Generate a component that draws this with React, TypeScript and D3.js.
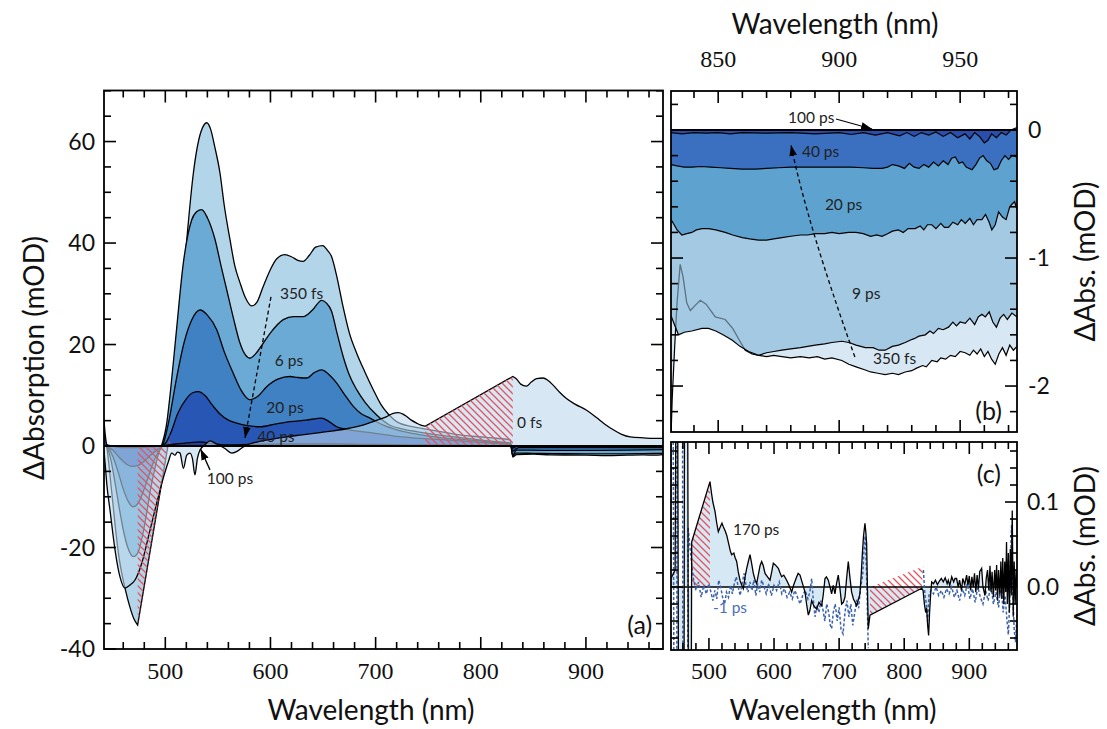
import React from 'react';
import * as d3 from 'd3';

type P = [number, number];

// ---------------- Panel (a) data: wavelength (nm), ΔA (mOD) ----------------
const A_0FS: P[] = [[441.7,-1],[443,-4],[444.3,-7.4],[447.4,-12.6],[452.2,-20.5],[456.9,-25.8],[461.7,-28.0],[466.4,-27.4],[471.2,-26.4],[477.6,-23.1],[483.9,-17.9],[490.2,-12.6],[496.6,-7.4],[502.9,-3.1],[506.1,-1.4],[509.2,-1.8],[511.5,-1.2],[514,-1.4],[517.2,-4.4],[520.4,-1.8],[523.5,-1.4],[525.8,-2.5],[528.2,-5.7],[530.5,-2.5],[533,-0.8],[538,0.3],[542.5,1.0],[548.8,0.4],[556.7,-0.5],[563.1,-1.4],[567.8,-1.1],[574.2,-0.2],[580,0.4],[590,0.9],[600,1.3],[615,1.8],[630,2.2],[645,2.6],[660,3.0],[675,3.5],[688,4.1],[700,5.0],[710.6,5.8],[716,6.4],[721.6,6.6],[726,6.3],[729.6,5.8],[734,5.1],[739,4.5],[743,4.1],[747,3.9],[830.5,13.7],[834,13.2],[838,12.2],[843.4,11.8],[848,12.6],[853,13.3],[859.3,13.4],[864,12.9],[868.8,12.0],[875,10.6],[881.2,9.4],[890,8.2],[900.3,7.1],[910,5.6],[918,4.3],[926.1,3.2],[934,2.3],[942,1.8],[955,1.6],[965,1.5],[973.3,1.5]];
const A_0FS_STRAIGHT = [747];
const A_350FS: P[] = [[441.7,0.5],[444,0],[447,-5],[450,-11],[453,-17],[456,-22],[459,-25.5],[462,-28.3],[466,-31.5],[470,-34],[473.7,-35.3],[504.5,2.5],[507,6.5],[510,13],[515.6,28.5],[521,42],[526.7,53.8],[532,60.5],[536,63],[539.4,63.7],[543,62.5],[547,59],[552,53.8],[556,47.5],[561.5,40.7],[566,35.6],[571,32.2],[576,29.3],[582,27.6],[587,28.3],[593,31.4],[600,34.8],[606,36.9],[613.7,37.7],[620,37.3],[626,36.6],[631,36.4],[637,37.6],[643,39.2],[649.7,39.5],[654,38.6],[658,37.4],[663,33.5],[669,27.5],[675,22.3],[682,18.3],[690,14.5],[698,11],[705,8.2],[712,6.3],[720,4.8],[735,3.8],[752,3.2],[780,2.2],[805,1.7],[828,1.2],[830.5,-2.2],[834,-1.7],[850,-1.6],[866,-1.75],[880,-1.77],[900,-1.8],[920,-1.9],[940,-1.8],[955,-1.75],[965,-1.8],[973.3,-1.7]];
const A_350FS_STRAIGHT = [473.7];
const A_6PS: P[] = [[441.7,0.3],[444,0],[448,-2.5],[452,-7],[456,-12],[460,-16.5],[464,-19.8],[469.6,-21.8],[474,-21],[478,-18],[482,-13.5],[486,-8.5],[490,-4.5],[494,-1.2],[497.5,0.8],[501,4],[505,11],[510,21.5],[517.1,36],[525,44.5],[530,46.2],[534.6,46.6],[540,45],[547.3,40.7],[553,35.5],[558.4,30.8],[565,25],[571,20.3],[576,18],[580.5,17.3],[586,18.2],[593.2,20.3],[600,22.3],[612.2,24.9],[622,25.5],[631.2,25.5],[640,26.8],[648.7,28.7],[653,28.2],[658.2,26.5],[663,22.5],[669.2,17.6],[675,14],[682,11.1],[690,8.6],[701,6.1],[713.6,4.1],[725,3.4],[740,2.8],[755,2.3],[775,1.8],[795,1.3],[812,0.9],[828,0.6],[830.5,-2.0],[834,-1.4],[850,-1.45],[870,-1.5],[900,-1.55],[930,-1.55],[955,-1.5],[973.3,-1.45]];
const A_20PS: P[] = [[441.7,0.2],[444,0],[450,-2],[455,-5],[460,-8.5],[465,-11],[469.6,-12],[474,-11.3],[479,-9],[484,-6],[489,-3],[494,-1],[498,0.4],[503,4.5],[510.8,13.5],[518,20.5],[525,24.8],[533,26.8],[540,25.8],[548.9,22.9],[556,18.6],[564.7,14.3],[572,11],[580.5,9.1],[588,9.8],[596.4,11.7],[607,13.2],[618.6,13.7],[626,13.5],[634.5,13.4],[642,14.5],[648.7,15],[655,14.2],[663,12.4],[670,10.3],[678.8,7.8],[686,6.4],[694.7,5.5],[707.3,4.1],[720,3.2],[740,2.3],[760,1.7],[780,1.3],[800,1.0],[820,0.6],[828.5,0.4],[830.5,-1.8],[834,-0.8],[860,-0.85],[900,-0.85],[940,-0.8],[973.3,-0.7]];
const A_40PS: P[] = [[441.7,0.4],[444,0],[450,-0.8],[456,-2.2],[462,-3.4],[468,-4],[474,-3.8],[480,-3],[486,-1.8],[492,-0.8],[497,0],[500,0.5],[505,2.5],[512,6.5],[520,9.3],[526,10.5],[531.4,10.7],[538,9.9],[545,8],[552,6.3],[560,5.1],[567.9,4.5],[578,4],[590.1,3.8],[604,4.3],[618.6,4.8],[634,5.1],[648.7,5.5],[655,4.9],[663,3.8],[672,3.3],[685,2.9],[700,2.5],[720,1.9],[760,1.3],[800,0.7],[828,0.3],[830.5,-1.0],[836,-0.3],[880,-0.3],[920,-0.3],[973.3,-0.3]];
const A_100PS: P[] = [[441.7,5],[443,2],[444.5,0.3],[450,0],[460,-0.3],[475,-0.3],[490,-0.1],[500,0.1],[510,0.4],[520,0.6],[533,0.8],[545,0.5],[560,0.2],[580,0.3],[620,0.4],[660,0.4],[700,0.3],[750,0.2],[800,0.1],[828,0],[830.5,-0.4],[834,-0.05],[973.3,-0.05]];
const A_HATCH1: P[] = [[473.7,0],[473.7,-35.3],[504.5,2.5],[504.5,0]];
const A_HATCH2: P[] = [[747,0],[747,3.9],[830.5,13.7],[830.5,0]];

// ---------------- Panel (b) data ----------------
const B_350FS: P[] = [[830.5,-2.4],[831,-2.1],[832,-1.7],[833,-1.35],[834.3,-1.05],[835.5,-1.15],[837,-1.35],[838.5,-1.41],[840.5,-1.37],[842.6,-1.33],[845,-1.36],[848.8,-1.46],[852.9,-1.48],[856,-1.55],[859,-1.65],[861.2,-1.72],[864,-1.75],[866.7,-1.76],[870,-1.77],[873,-1.76],[876.3,-1.77],[880,-1.78],[884,-1.77],[887.6,-1.78],[891,-1.77],[894,-1.79],[897,-1.78],[901.1,-1.80],[904,-1.83],[907,-1.85],[910.8,-1.875],[913,-1.89],[916,-1.9],[919,-1.91],[922,-1.9],[924.5,-1.91],[927.3,-1.89],[930,-1.88],[932,-1.86],[934.5,-1.84],[936,-1.85],[938.3,-1.80],[940.5,-1.81],[942,-1.78],[944,-1.79],[946,-1.76],[948,-1.77],[950,-1.73],[952.1,-1.74],[954,-1.76],[955.5,-1.72],[957,-1.75],[958.5,-1.71],[960,-1.77],[961.5,-1.73],[963,-1.79],[964.5,-1.83],[966,-1.75],[967.5,-1.7],[969,-1.76],[970.5,-1.68],[972,-1.72],[973.5,-1.69]];
const B_9PS: P[] = [[830.5,-1.45],[831.5,-1.5],[833.6,-1.6],[836,-1.58],[839.1,-1.57],[843.3,-1.55],[846,-1.55],[849,-1.57],[852,-1.6],[855.7,-1.64],[859,-1.69],[862.6,-1.73],[866.7,-1.76],[870,-1.74],[873,-1.73],[876.3,-1.72],[880,-1.71],[884,-1.7],[887,-1.69],[890.1,-1.68],[894,-1.67],[897,-1.66],[901.1,-1.65],[904,-1.66],[907,-1.68],[910.8,-1.70],[914,-1.7],[916.5,-1.72],[919,-1.72],[922,-1.69],[924.5,-1.68],[927.3,-1.66],[929.5,-1.64],[931,-1.63],[933,-1.61],[935.6,-1.6],[937.5,-1.57],[939,-1.59],[941,-1.55],[943,-1.56],[945.2,-1.54],[947,-1.5],[948.5,-1.53],[950,-1.5],[952.1,-1.51],[954,-1.47],[956,-1.52],[957.5,-1.46],[959,-1.44],[960.4,-1.46],[962,-1.42],[963.5,-1.5],[965,-1.54],[966.5,-1.47],[968,-1.44],[969.5,-1.48],[971.4,-1.43],[973.5,-1.46]];
const B_20PS: P[] = [[830.5,-0.7],[831.5,-0.73],[833,-0.78],[835,-0.82],[837,-0.81],[839.1,-0.8],[841,-0.78],[843.3,-0.77],[846,-0.77],[849,-0.78],[852.9,-0.8],[856,-0.82],[860,-0.84],[863,-0.85],[866.7,-0.86],[870,-0.86],[873,-0.85],[876.3,-0.84],[880,-0.83],[884,-0.82],[887,-0.82],[890.1,-0.81],[894,-0.81],[897,-0.8],[900,-0.81],[903.9,-0.8],[907,-0.8],[910,-0.81],[913,-0.83],[915.5,-0.82],[917.7,-0.83],[920,-0.81],[922,-0.79],[924.5,-0.78],[926.5,-0.8],[928.5,-0.77],[931.4,-0.77],[933.5,-0.75],[935,-0.78],[936.5,-0.74],[938.3,-0.74],[940,-0.77],[942,-0.73],[943.5,-0.76],[945.2,-0.76],[947,-0.72],[949,-0.74],[950.5,-0.7],[952.1,-0.73],[954,-0.69],[955.5,-0.74],[957,-0.7],[959,-0.7],[960.5,-0.66],[962,-0.72],[963.1,-0.78],[964.5,-0.74],[965.9,-0.64],[967.5,-0.68],[969,-0.7],[970.5,-0.6],[971.4,-0.58],[972.5,-0.56],[973.5,-0.62]];
const B_40PS: P[] = [[830.5,-0.27],[833,-0.28],[836,-0.29],[839.1,-0.29],[843,-0.285],[847,-0.29],[851,-0.295],[855,-0.3],[860,-0.305],[865.3,-0.305],[870,-0.3],[875,-0.295],[880,-0.29],[885,-0.29],[890.1,-0.29],[895,-0.29],[900,-0.29],[905,-0.29],[910,-0.295],[914,-0.3],[917.7,-0.3],[920,-0.29],[922,-0.27],[924.5,-0.28],[927,-0.3],[929,-0.26],[931,-0.29],[933,-0.3],[935,-0.27],[937,-0.29],[939,-0.25],[941,-0.28],[943,-0.24],[945,-0.27],[946.5,-0.22],[948,-0.21],[949.5,-0.26],[951,-0.25],[952.5,-0.29],[954.9,-0.31],[956.5,-0.27],[958,-0.22],[959.5,-0.2],[961,-0.24],[962.5,-0.26],[964,-0.31],[965.5,-0.3],[967,-0.24],[968.5,-0.2],[970,-0.23],[971.5,-0.2],[973.5,-0.21]];
const B_100PS: P[] = [[830.5,-0.02],[835,-0.03],[840,-0.02],[845,-0.025],[850,-0.02],[855,-0.03],[860,-0.02],[870,-0.025],[880,-0.02],[890,-0.03],[900,-0.02],[905,-0.035],[910,-0.02],[915,-0.04],[920,-0.02],[925,-0.045],[928,-0.02],[931,-0.05],[934,-0.02],[937,-0.04],[940,-0.015],[943,-0.05],[946,-0.02],[949,-0.06],[952,-0.03],[954,-0.07],[956,-0.02],[958,-0.05],[960,-0.1],[961.5,-0.08],[963,-0.03],[965,-0.06],[967,-0.02],[969,-0.04],[971,0.0],[973.5,0.02]];

// ---------------- Panel (c) data ----------------
const C_170PS: P[] = [[441.7,0.01],[448,0.02],[451,0.5],[454.5,-0.5],[461,-0.5],[463,0.5],[466.5,0.5],[469.5,-0.5],[471.5,-0.5],[473.5,0.053],[501.6,0.124],[504,0.11],[506,0.1],[509.3,0.089],[512,0.075],[514.4,0.065],[517,0.07],[520,0.075],[522.1,0.071],[525,0.066],[527.3,0.061],[530.9,0.049],[533,0.042],[534.9,0.038],[538.3,0.04],[540,0.035],[542.6,0.03],[545,0.018],[547.7,0.008],[550,0.003],[552.8,-0.002],[555.5,0.012],[558,0.022],[560.5,0.03],[563.1,0.038],[565.5,0.028],[568.2,0.016],[571,0.008],[573.3,0.004],[576,0.015],[578.5,0.025],[581,0.03],[583.5,0.025],[586.2,0.016],[590,0.012],[593.8,0.008],[596.5,0.018],[598.9,0.028],[602,0.026],[606.6,0.022],[609,0.017],[611.7,0.012],[615,0.014],[619.4,0.008],[623,0.002],[627.1,-0.006],[630,0.002],[634.8,0.012],[637,0.016],[639.9,0.014],[643,0.006],[647.6,-0.006],[650,-0.02],[652.7,-0.033],[655,-0.028],[657.8,-0.016],[661,-0.022],[665.5,-0.026],[669,-0.018],[673.2,-0.022],[675.5,-0.01],[678.3,0.01],[680.5,0.012],[683.4,0.008],[686,0.0],[688.5,-0.008],[691,0.002],[693.6,-0.008],[696,0.004],[698.7,0.014],[701,0.0],[703.9,-0.02],[706.5,-0.018],[709,-0.012],[711.5,0.01],[714.1,0.03],[716.5,0.012],[719.2,-0.006],[722,-0.014],[724.5,-0.018],[726.9,-0.022],[729.5,-0.015],[732,-0.008],[734,0.015],[735.6,0.038],[737.5,0.06],[739.7,0.075],[741,0.065],[742.3,0.051],[743.5,0.0],[744.8,-0.049],[747.4,-0.033],[826.9,-0.0015],[829,-0.004],[831,-0.02],[833,-0.03],[834.5,-0.025],[836,-0.045],[837.5,-0.057],[839,-0.03],[840.5,-0.01],[842.2,0.006],[845,0.004],[848,0.008],[851,0.003],[854,0.007],[857,0.01],[860,0.006],[863,0.011],[866,0.004],[867.7,0.008],[870,0.002],[873,0.012],[876,0.006],[878,0.01],[880.5,0.01],[883,0.0],[885,0.008],[888,-0.004],[890,0.01],[893,0.003],[895.9,0.014],[898,0.002],[900,0.013],[902,-0.004],[904,0.012],[906,0.0],[908,0.016],[910,-0.006],[912,0.014],[914,-0.002],[916,0.018],[919,0.022],[921,0.0],[924.1,-0.01],[926,0.01],[928,0.02],[930,-0.004],[931.8,0.025],[933.5,-0.006],[935,0.018],[937,-0.012],[939,0.02],[940.5,-0.004],[942,0.026],[943.5,-0.016],[945,0.02],[947,-0.01],[948.5,0.03],[950,-0.014],[951.4,0.034],[953,-0.02],[954.5,0.03],[956,-0.006],[957.2,0.053],[958.5,-0.02],[960,0.04],[961.5,-0.03],[963,0.045],[964.5,-0.01],[966,0.09],[967.5,-0.035],[969,0.03],[970.5,-0.02],[972,0.02],[973.3,0.0]];
const C_M1PS_VIS: P[] = [[441.7,0.1],[444,0.5],[447.5,-0.5],[450,-0.5],[451.5,0.5],[459,0.5],[460.5,-0.5],[466,-0.5],[468,0.07],[470.5,0.05],[473,0.03],[476,0.01],[480,-0.004],[484,0.006],[488,-0.012],[492,0.002],[496,-0.008],[500,0.004],[503,-0.006],[506,-0.016],[509,-0.004],[512,-0.014],[515,0.008],[518,0.0],[521,-0.012],[524,-0.02],[527,-0.006],[530,-0.012],[533,0.002],[536,-0.008],[539,0.004],[542,0.012],[545,0.0],[548,-0.01],[551,0.004],[554,0.016],[557,0.002],[560,-0.006],[563,0.006],[566,-0.004],[569,0.008],[572,-0.01],[575,0.004],[578,-0.006],[581,0.008],[584,0.002],[588,-0.008],[592,0.004],[596,-0.01],[600,0.002],[604,-0.004],[608,0.006],[612,-0.008],[616,-0.002],[620,-0.012],[624,-0.006],[628,-0.014],[632,-0.004],[636,-0.012],[640,-0.02],[644,-0.01],[648,-0.004],[652,-0.014],[655,-0.006],[657.8,0.01],[660,-0.012],[663,-0.035],[666,-0.022],[669,-0.03],[672,-0.016],[675,-0.026],[678,-0.04],[681,-0.02],[684,-0.03],[686.5,-0.045],[688.5,-0.049],[691,-0.03],[694,-0.02],[697,-0.04],[700,-0.024],[703,-0.05],[706,-0.055],[709,-0.03],[712,-0.016],[715,-0.035],[718,-0.02],[721,-0.045],[724,-0.03],[727,-0.015],[730,-0.025],[733,0.0],[736.2,0.014],[738,0.04],[740,0.06],[742,0.02],[744.8,-0.072]];
const C_M1PS_NIR: P[] = [[829.5,0.02],[831.8,-0.009],[834,-0.02],[836,-0.04],[838,-0.01],[841,-0.004],[845,-0.008],[849,0.0],[853,-0.01],[857,-0.004],[861,-0.012],[865,-0.002],[869,-0.008],[873,0.0],[877,-0.012],[881,-0.004],[885,-0.016],[889,-0.002],[893,-0.01],[897,0.004],[901,-0.014],[905,-0.002],[909,-0.018],[913,0.0],[917,-0.012],[921,-0.02],[925,-0.004],[929,-0.016],[933,0.004],[937,-0.02],[941,-0.006],[945,-0.024],[949,0.006],[952,-0.03],[955,-0.01],[958,-0.04],[960,-0.056],[962,-0.02],[963.5,0.04],[965,0.073],[967,-0.01],[969,-0.05],[971,-0.065],[973.3,-0.03]];
const C_HATCH1: P[] = [[473.5,0],[473.5,0.053],[501.6,0.124],[501.6,0]];
const C_HATCH2: P[] = [[747.4,0],[747.4,-0.033],[826.9,-0.0015],[829.3,0.024]];

// ---------------- ticks ----------------
const A_XTICKS = [500, 600, 700, 800, 900];
const A_YTICKS = [-40, -20, 0, 20, 40, 60];
const B_XTICKS = [850, 900, 950];
const B_YTICKS = [-2, -1, 0];
const C_XTICKS = [500, 600, 700, 800, 900];
const C_YTICKS = [0, 0.1];
const C_YLABELS = ['0.0', '0.1'];

const W = 1107, H = 729;
const FA = { x0: 104, x1: 663, y0: 90.5, y1: 649 };
const FB = { x0: 671, x1: 1017, y0: 91, y1: 432 };
const FC = { x0: 671, x1: 1017, y0: 442, y1: 650 };

const xA = d3.scaleLinear().domain([441.7, 973.3]).range([FA.x0, FA.x1]);
const yA = d3.scaleLinear().domain([-40.0, 70.06]).range([FA.y1, FA.y0]);
const xB = d3.scaleLinear().domain([830.5, 973.5]).range([FB.x0, FB.x1]);
const yB = d3.scaleLinear().domain([-2.359, 0.3047]).range([FB.y1, FB.y0]);
const xC = d3.scaleLinear().domain([441.7, 973.3]).range([FC.x0, FC.x1]);
const yC = d3.scaleLinear().domain([-0.0741, 0.1706]).range([FC.y1, FC.y0]);

const SANS = "Lato, 'Open Sans', 'DejaVu Sans', sans-serif";
const SERIF = "'Liberation Serif', 'DejaVu Serif', serif";

function buildLine(data: P[], x: any, y: any, straight: number[], curve: any): string {
  const runs: P[][] = [];
  let cur: P[] = [];
  data.forEach((p, i) => {
    cur.push(p);
    if (straight.includes(p[0]) && i < data.length - 1) { runs.push(cur); cur = []; }
  });
  if (cur.length) runs.push(cur);
  const gen = d3.line<P>().x(d => x(d[0])).y(d => y(d[1])).curve(curve);
  return runs.map((r, i) => {
    const s = (gen(r) || '').replace(/Z$/, '');
    return i === 0 ? s : 'L' + s.slice(1);
  }).join('');
}
function buildArea(data: P[], x: any, y: any, straight: number[], curve: any): string {
  const l = buildLine(data, x, y, straight, curve);
  const f = data[0], e = data[data.length - 1];
  return `${l}L${x(e[0])},${y(0)}L${x(f[0])},${y(0)}Z`;
}
function poly(data: P[], x: any, y: any): string {
  return 'M' + data.map(d => `${x(d[0])},${y(d[1])}`).join('L') + 'Z';
}

function Ticks({ x, y, f, xMinor, xMajor, yMinor, yMajor }: any) {
  const isMaj = (arr: number[], v: number) => arr.some(m => Math.abs(m - v) < 1e-6);
  const out: any[] = [];
  xMinor.forEach((v: number, i: number) => {
    const L = isMaj(xMajor, v) ? 12 : 7;
    const px = x(v);
    out.push(<line key={'xb' + i} x1={px} x2={px} y1={f.y1} y2={f.y1 - L} />);
    out.push(<line key={'xt' + i} x1={px} x2={px} y1={f.y0} y2={f.y0 + L} />);
  });
  yMinor.forEach((v: number, i: number) => {
    const L = isMaj(yMajor, v) ? 12 : 7;
    const py = y(v);
    out.push(<line key={'yl' + i} x1={f.x0} x2={f.x0 + L} y1={py} y2={py} />);
    out.push(<line key={'yr' + i} x1={f.x1} x2={f.x1 - L} y1={py} y2={py} />);
  });
  return <g stroke="#000" strokeWidth={1.6}>{out}</g>;
}

export default function App() {
  const mA = d3.curveMonotoneX;
  const lin = d3.curveLinear;

  const aSeries = [
    { d: A_350FS, s: A_350FS_STRAIGHT, fill: '#b3d5ea' },
    { d: A_6PS, s: [], fill: '#6aaad5' },
    { d: A_20PS, s: [], fill: '#3f81c3' },
    { d: A_40PS, s: [], fill: '#2856b4' },
    { d: A_100PS, s: [], fill: '#1f3f9c' },
  ];
  const bSeries = [
    { d: B_9PS, fill: '#a3c9e3' },
    { d: B_20PS, fill: '#5ea3d0' },
    { d: B_40PS, fill: '#3a70bf' },
    { d: B_100PS, fill: '#2b4eae' },
  ];

  const txt = { fontFamily: SANS, fill: '#222' } as any;
  const TITLE = 28;

  return (
    <div style={{ position: 'absolute', left: 0, top: 0, width: W, height: H, background: '#fff' }}>
      <svg width={W} height={H} viewBox={`0 0 ${W} ${H}`}>
        <defs>
          <clipPath id="clipA"><rect x={FA.x0} y={FA.y0} width={FA.x1 - FA.x0} height={FA.y1 - FA.y0} /></clipPath>
          <clipPath id="clipB"><rect x={FB.x0} y={FB.y0} width={FB.x1 - FB.x0} height={FB.y1 - FB.y0} /></clipPath>
          <clipPath id="clipC"><rect x={FC.x0} y={FC.y0} width={FC.x1 - FC.x0} height={FC.y1 - FC.y0} /></clipPath>
          <clipPath id="clip9ps"><path d={buildArea(B_9PS, xB, yB, [], lin)} /></clipPath>
          <pattern id="hatch" patternUnits="userSpaceOnUse" width={7} height={7}>
            <path d="M0,0L7,7M-1,6L1,8M6,-1L8,1" stroke="#e4535d" strokeWidth={1.3} />
          </pattern>
          <marker id="arr" viewBox="0 0 10 7" refX={10} refY={3.5} markerWidth={11} markerHeight={8} markerUnits="userSpaceOnUse" orient="auto">
            <path d="M0,0L10,3.5L0,7Z" fill="#000" />
          </marker>
        </defs>

        {/* ---------------- Panel (a) ---------------- */}
        <g clipPath="url(#clipA)">
          {aSeries.map((s, i) => (
            <g key={i}>
              <path d={buildArea(s.d, xA, yA, s.s, mA)} fill={s.fill} stroke="none" />
              <path d={buildLine(s.d, xA, yA, s.s, mA)} fill="none" stroke="#000" strokeWidth={1.3} />
            </g>
          ))}
          <path d={buildArea(A_0FS, xA, yA, A_0FS_STRAIGHT, mA)} fill="#bcd9ed" fillOpacity={0.6} stroke="none" />
          <path d={buildLine(A_0FS, xA, yA, A_0FS_STRAIGHT, mA)} fill="none" stroke="#000" strokeWidth={1.3} />
          <path d={poly(A_HATCH1, xA, yA)} fill="url(#hatch)" />
          <path d={poly(A_HATCH2, xA, yA)} fill="url(#hatch)" />
          <line x1={xA(441.7)} x2={xA(973.3)} y1={yA(0)} y2={yA(0)} stroke="#000" strokeWidth={1.8} />
        </g>
        <rect x={FA.x0} y={FA.y0} width={FA.x1 - FA.x0} height={FA.y1 - FA.y0} fill="none" stroke="#000" strokeWidth={1.8} />
        <Ticks x={xA} y={yA} f={FA} xMinor={d3.range(460, 961, 20)} xMajor={A_XTICKS} yMinor={d3.range(-40, 70.01, 5)} yMajor={A_YTICKS} />
        {A_XTICKS.map(v => (
          <text key={'ax' + v} x={xA(v)} y={679} textAnchor="middle" fontFamily={SERIF} fontSize={24} fill="#111">{v}</text>
        ))}
        {A_YTICKS.map(v => (
          <text key={'ay' + v} x={95} y={yA(v) + 8} textAnchor="end" fontFamily={SANS} fontSize={23} fill="#111">{String(v)}</text>
        ))}
        <text x={xA(695.6)} y={720} textAnchor="middle" fontFamily={SANS} fontSize={TITLE} fill="#111">Wavelength (nm)</text>
        <text transform={`translate(44,358) rotate(-90)`} textAnchor="middle" fontFamily={SANS} fontSize={TITLE} fill="#111">ΔAbsorption (mOD)</text>

        <g {...txt} fontSize={15.5}>
          <text x={xA(609.1)} y={yA(29.0)}>350 fs</text>
          <text x={xA(617.6)} y={yA(15.8)} textAnchor="middle">6 ps</text>
          <text x={xA(613.8)} y={yA(6.5)} textAnchor="middle">20 ps</text>
          <text x={xA(605.2)} y={yA(0.8)} textAnchor="middle">40 ps</text>
          <text x={xA(561.5)} y={yA(-7.5)} textAnchor="middle">100 ps</text>
          <text x={xA(834.5)} y={yA(3.55)}>0 fs</text>
        </g>
        <line x1={xA(600.5)} y1={yA(29.4)} x2={xA(575.8)} y2={yA(1.6)} stroke="#000" strokeWidth={1.3} strokeDasharray="4,3" markerEnd="url(#arr)" />
        <line x1={xA(542.5)} y1={yA(-4.7)} x2={xA(533.5)} y2={yA(-0.6)} stroke="#000" strokeWidth={1.3} markerEnd="url(#arr)" />
        <text x={xA(962.9)} y={yA(-37.1)} textAnchor="end" fontFamily={SANS} fontSize={25} fill="#111">(a)</text>

        {/* ---------------- Panel (b) ---------------- */}
        <g clipPath="url(#clipB)">
          <path d={buildArea(B_350FS, xB, yB, [], lin)} fill="#d7e8f4" />
          <path d={buildLine(B_350FS, xB, yB, [], lin)} fill="none" stroke="#000" strokeWidth={1.2} />
          {bSeries.map((s, i) => (
            <g key={i}>
              <path d={buildArea(s.d, xB, yB, [], lin)} fill={s.fill} />
              {i === 0 && (
                <path d={buildLine(B_350FS, xB, yB, [], lin)} fill="none" stroke="#5d7282" strokeWidth={1.3} clipPath="url(#clip9ps)" />
              )}
              <path d={buildLine(s.d, xB, yB, [], lin)} fill="none" stroke="#000" strokeWidth={1.2} />
            </g>
          ))}
          <line x1={FB.x0} x2={FB.x1} y1={yB(0)} y2={yB(0)} stroke="#000" strokeWidth={2} />
        </g>
        <rect x={FB.x0} y={FB.y0} width={FB.x1 - FB.x0} height={FB.y1 - FB.y0} fill="none" stroke="#000" strokeWidth={1.8} />
        <Ticks x={xB} y={yB} f={FB} xMinor={d3.range(840, 971, 10)} xMajor={B_XTICKS} yMinor={d3.range(-2.2, 0.25, 0.2)} yMajor={B_YTICKS} />
        {B_XTICKS.map(v => (
          <text key={'bx' + v} x={xB(v)} y={67} textAnchor="middle" fontFamily={SERIF} fontSize={24} fill="#111">{v}</text>
        ))}
        {B_YTICKS.map(v => (
          <text key={'by' + v} x={1028} y={yB(v) + 8} textAnchor="start" fontFamily={SANS} fontSize={23} fill="#111">{String(v)}</text>
        ))}
        <text x={835} y={34} textAnchor="middle" fontFamily={SANS} fontSize={TITLE} fill="#111">Wavelength (nm)</text>
        <text transform={`translate(1095,${(FB.y0 + FB.y1) / 2}) rotate(-90)`} textAnchor="middle" fontFamily={SANS} fontSize={TITLE} fill="#111">ΔAbs. (mOD)</text>
        <g {...txt} fontSize={15.5}>
          <text x={xB(878.9)} y={yB(0.055)}>100 ps</text>
          <text x={xB(884.6)} y={yB(-0.21)}>40 ps</text>
          <text x={xB(894.1)} y={yB(-0.625)}>20 ps</text>
          <text x={xB(905.3)} y={yB(-1.32)}>9 ps</text>
          <text x={xB(914.0)} y={yB(-1.83)}>350 fs</text>
        </g>
        <line x1={xB(898.7)} y1={yB(0.086)} x2={xB(913.6)} y2={yB(0.008)} stroke="#000" strokeWidth={1.1} markerEnd="url(#arr)" />
        <path d={`M${xB(906.5)},${yB(-1.773)}Q${xB(886.7)},${yB(-0.727)} ${xB(880.1)},${yB(-0.117)}`} fill="none" stroke="#000" strokeWidth={1.3} strokeDasharray="4,3" markerEnd="url(#arr)" />
        <text x={xB(967.3)} y={yB(-2.266)} textAnchor="end" fontFamily={SANS} fontSize={25} fill="#111">(b)</text>

        {/* ---------------- Panel (c) ---------------- */}
        <g clipPath="url(#clipC)">
          <path d={buildArea(C_170PS, xC, yC, [], lin)} fill="#d6e8f4" />
          <path d={poly(C_HATCH1, xC, yC)} fill="url(#hatch)" />
          <path d={poly(C_HATCH2, xC, yC)} fill="url(#hatch)" />
          <line x1={FC.x0} x2={FC.x1} y1={yC(0)} y2={yC(0)} stroke="#000" strokeWidth={1.3} />
          <path d={buildLine(C_M1PS_VIS, xC, yC, [], lin)} fill="none" stroke="#3b63ad" strokeWidth={1.5} strokeDasharray="3,2" />
          <path d={buildLine(C_M1PS_NIR, xC, yC, [], lin)} fill="none" stroke="#3b63ad" strokeWidth={1.5} strokeDasharray="3,2" />
          <path d={buildLine(C_170PS, xC, yC, [], lin)} fill="none" stroke="#000" strokeWidth={1.3} />
        </g>
        <rect x={FC.x0} y={FC.y0} width={FC.x1 - FC.x0} height={FC.y1 - FC.y0} fill="none" stroke="#000" strokeWidth={1.8} />
        <Ticks x={xC} y={yC} f={FC} xMinor={d3.range(460, 961, 20)} xMajor={C_XTICKS} yMinor={d3.range(-0.06, 0.17, 0.02)} yMajor={C_YTICKS} />
        {C_XTICKS.map(v => (
          <text key={'cx' + v} x={xC(v)} y={679} textAnchor="middle" fontFamily={SERIF} fontSize={24} fill="#111">{v}</text>
        ))}
        {C_YTICKS.map((v, i) => (
          <text key={'cy' + v} x={1027} y={yC(v) + 8} textAnchor="start" fontFamily={SANS} fontSize={23} fill="#111">{C_YLABELS[i]}</text>
        ))}
        <text x={833} y={720} textAnchor="middle" fontFamily={SANS} fontSize={TITLE} fill="#111">Wavelength (nm)</text>
        <text transform={`translate(1095,${(FC.y0 + FC.y1) / 2}) rotate(-90)`} textAnchor="middle" fontFamily={SANS} fontSize={TITLE} fill="#111">ΔAbs. (mOD)</text>
        <text x={xC(536.9)} y={yC(0.061)} fontFamily={SANS} fontSize={15.5} fill="#222">170 ps</text>
        <text x={xC(506.2)} y={yC(-0.0306)} fontFamily={SANS} fontSize={15.5} fill="#4a6fb5">-1 ps</text>
        <text x={xC(948.7)} y={yC(0.122)} textAnchor="end" fontFamily={SANS} fontSize={25} fill="#111">(c)</text>
      </svg>
    </div>
  );
}
